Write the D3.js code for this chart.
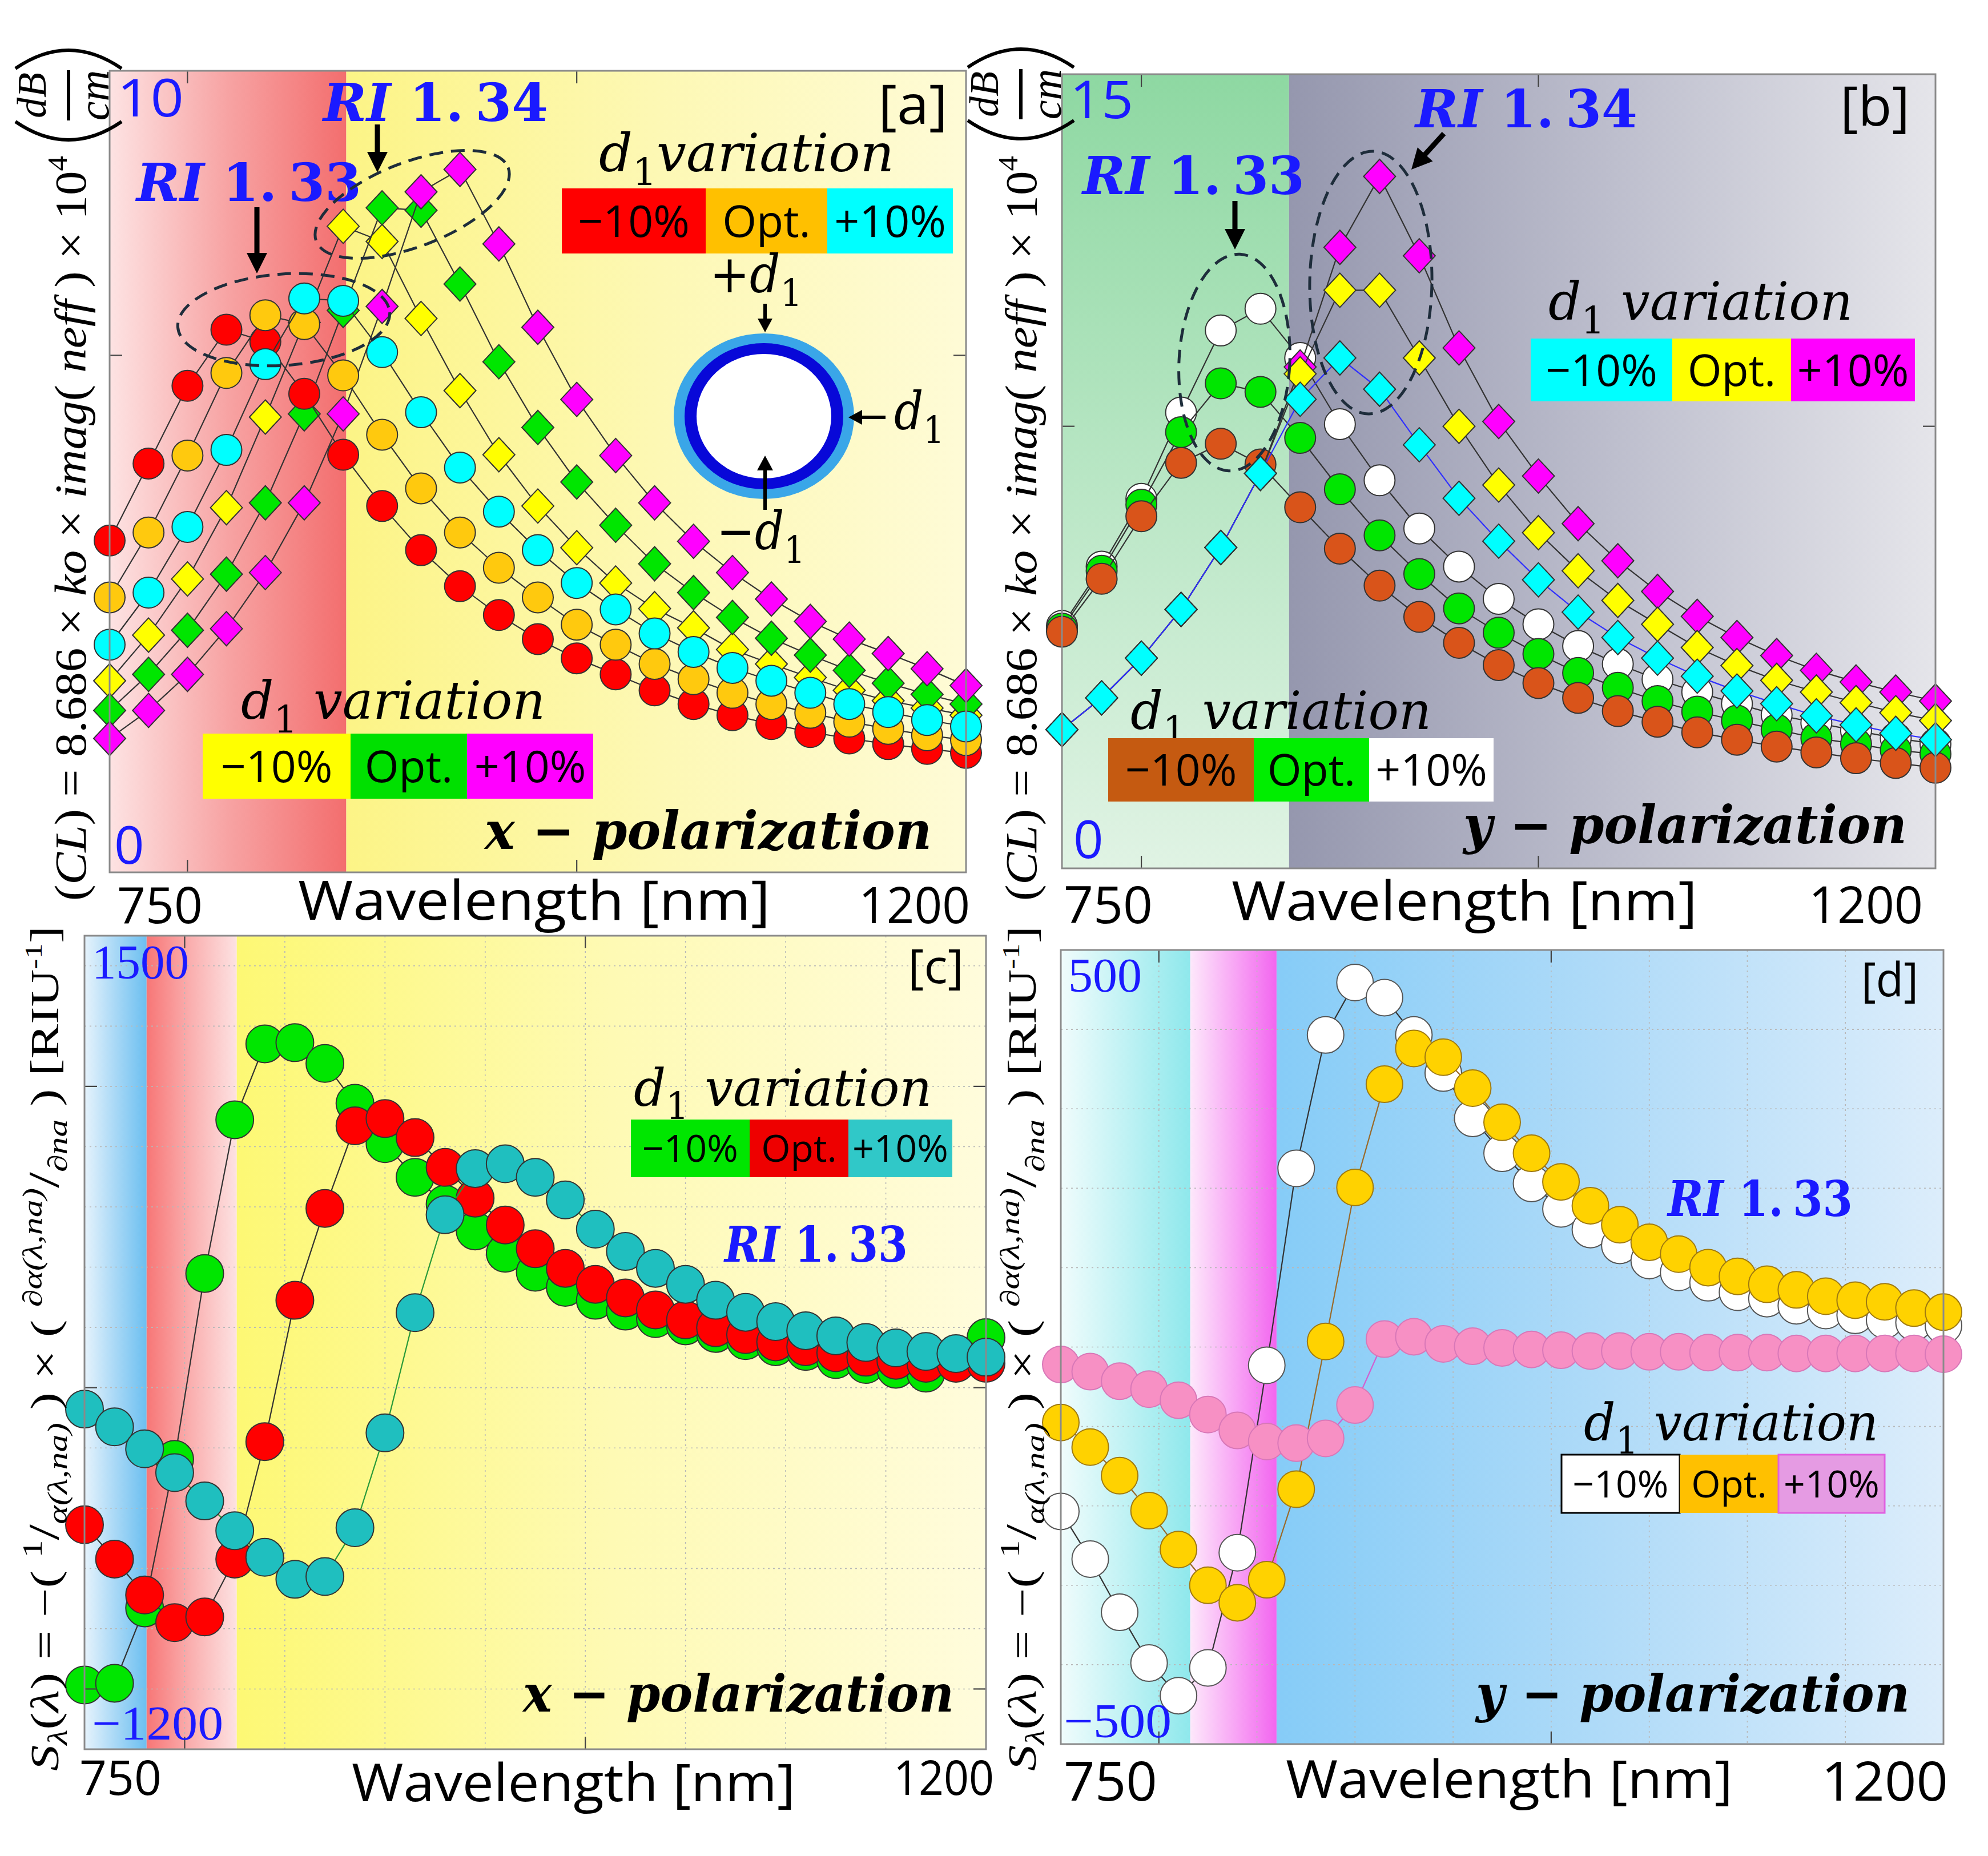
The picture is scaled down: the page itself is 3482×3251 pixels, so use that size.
<!DOCTYPE html>
<html><head><meta charset="utf-8">
<script src="https://cdn.jsdelivr.net/npm/d3@7"></script>
<style>html,body{margin:0;padding:0;background:#fff}svg{display:block}</style>
</head><body>
<script>
// ---------------- DATA ----------------
const wavelengthAB = [700,725,750,775,800,825,850,875,900,925,950,975,1000,1025,1050,1075,1100,1125,1150,1175,1200,1225,1250];
const wavelengthCD = [750,765,780,795,810,825,840,855,870,885,900,915,930,945,960,975,990,1005,1020,1035,1050,1065,1080,1095,1110,1125,1140,1155,1170,1185,1200];
const xTickLabels = ["750", "1200"];
const legendLabels = ["\u221210%", "Opt.", "+10%"];

// panel a: confinement loss, x-polarization (RI 1.33 circles, RI 1.34 diamonds)
const aRI133m10 = [4.14,5.10,6.07,6.77,6.62,5.97,5.21,4.57,4.02,3.57,3.21,2.91,2.67,2.47,2.27,2.10,1.96,1.85,1.75,1.67,1.60,1.54,1.49];
const aRI133opt = [3.43,4.24,5.20,6.23,6.95,6.84,6.20,5.46,4.79,4.24,3.80,3.43,3.09,2.84,2.60,2.41,2.24,2.10,1.99,1.88,1.79,1.71,1.65];
const aRI133p10 = [2.84,3.49,4.31,5.27,6.34,7.16,7.13,6.49,5.74,5.05,4.50,4.02,3.61,3.28,2.98,2.75,2.55,2.39,2.24,2.10,2.00,1.90,1.82];
const aRI134m10 = [2.39,2.96,3.66,4.55,5.68,6.86,8.06,7.87,6.91,6.01,5.21,4.57,4.05,3.61,3.29,3.05,2.78,2.60,2.43,2.27,2.14,2.05,1.96];
const aRI134opt = [2.02,2.47,3.02,3.72,4.61,5.72,7.01,8.29,8.26,7.34,6.37,5.55,4.87,4.33,3.85,3.49,3.18,2.92,2.71,2.52,2.36,2.22,2.10];
const aRI134p10 = [1.67,2.02,2.47,3.04,3.74,4.61,5.72,7.06,8.49,8.77,7.84,6.80,5.90,5.20,4.61,4.13,3.74,3.41,3.13,2.91,2.73,2.54,2.33];
const aYLabels = ["0", "10"];

// panel b: confinement loss, y-polarization
const bRI133m10 = [4.47,5.47,6.65,7.66,8.02,7.63,6.82,6.04,5.34,4.75,4.26,3.84,3.50,3.22,2.97,2.77,2.57,2.43,2.30,2.19,2.08,1.99,1.90];
const bRI133opt = [4.53,5.62,6.87,8.24,9.16,9.00,8.13,7.16,6.29,5.56,4.91,4.45,4.05,3.69,3.41,3.16,2.96,2.79,2.62,2.46,2.35,2.23,2.16];
const bRI133p10 = [4.58,5.70,6.98,8.61,10.16,10.57,9.64,8.39,7.33,6.42,5.70,5.09,4.61,4.20,3.86,3.57,3.33,3.11,2.90,2.75,2.60,2.46,2.35];
const bRI134m10 = [2.62,3.22,3.97,4.89,6.06,7.46,8.86,9.64,9.05,8.00,6.99,6.18,5.45,4.84,4.36,3.97,3.63,3.35,3.11,2.88,2.71,2.55,2.43];
const bRI134opt = [2.62,3.22,3.97,4.89,6.06,7.46,9.34,10.92,10.92,9.64,8.35,7.24,6.34,5.62,5.06,4.61,4.17,3.83,3.55,3.33,3.13,2.94,2.79];
const bRI134p10 = [2.62,3.22,3.97,4.89,6.06,7.46,9.47,11.73,13.07,11.57,9.83,8.44,7.41,6.51,5.81,5.23,4.76,4.36,4.02,3.74,3.52,3.33,3.16];
const bYLabels = ["0", "15"];

// panel c: sensitivity, x-polarization
const cM10 = [-987,-981,-731,-238,379,889,1141,1145,1076,944,810,698,609,520,446,383,333,290,254,229,205,180,156,136,120,93,77,61,48,107,166];
const cOpt = [-455,-569,-688,-780,-761,-569,-179,290,595,869,893,830,731,629,540,461,396,343,298,258,225,199,176,152,136,116,101,91,81,81,81];
const cP10 = [-71,-130,-203,-282,-376,-475,-563,-636,-627,-465,-150,249,574,727,743,698,623,526,452,396,343,290,250,219,189,172,150,132,120,113,101];
const cYLabels = ["\u22121200", "1500"];

// panel d: sensitivity, y-polarization
const dM10 = [-207,-267,-334,-398,-439,-404,-259,-23,225,393,459,440,393,345,288,244,206,174,148,128,109,94,81,69,61,52,46,40,34,31,27];
const dOpt = [-95,-126,-162,-206,-255,-300,-322,-293,-179,7,201,331,376,365,326,283,244,208,178,154,132,117,100,89,79,72,64,59,57,49,44];
const dP10 = [-22,-31,-43,-53,-67,-85,-105,-119,-121,-115,-73,10,13,4,1,-1,-3,-4,-5,-5,-6,-6,-7,-7,-7,-8,-8,-8,-8,-8,-9];
const dYLabels = ["\u2212500", "500"];

// ---------------- DRAWING ----------------
const W = 3482, H = 3251;
const SANS = "'Open Sans','Noto Sans',sans-serif";
const SERIF = "'DejaVu Serif',serif";
const TIMES = "'Liberation Serif',serif";
const BLUE = "#1a1aff";

const svg = d3.select("body").append("svg").attr("width", W).attr("height", H)
  .attr("viewBox", `0 0 ${W} ${H}`);
svg.append("rect").attr("width", W).attr("height", H).attr("fill", "#fff");
const defs = svg.append("defs");

function txt(g, o) {
  const t = g.append("text").attr("x", o.x).attr("y", o.y)
    .attr("font-size", o.size).attr("font-family", o.family || SANS)
    .attr("fill", o.fill || "#000");
  if (o.anchor) t.attr("text-anchor", o.anchor);
  if (o.weight) t.attr("font-weight", o.weight);
  if (o.style) t.attr("font-style", o.style);
  if (o.len) t.attr("textLength", o.len).attr("lengthAdjust", "spacingAndGlyphs");
  if (o.text != null) t.text(o.text);
  return t;
}

function drawPanel(P) {
  const g = svg.append("g");
  const x = d3.scaleLinear().domain(P.xDomain).range([P.box.x0, P.box.x1]);
  const y = d3.scaleLinear().domain(P.yDomain).range([P.box.y1, P.box.y0]);
  const bw = P.box.x1 - P.box.x0, bh = P.box.y1 - P.box.y0;

  P.regions.forEach((r, i) => {
    const id = `grad-${P.id}-${i}`;
    const lg = defs.append("linearGradient").attr("id", id)
      .attr("x1", 0).attr("y1", 0)
      .attr("x2", r.dir === "v" ? 0 : 1).attr("y2", r.dir === "v" ? 1 : 0);
    r.stops.forEach((c, k) => lg.append("stop").attr("offset", k / (r.stops.length - 1)).attr("stop-color", c));
    g.append("rect").attr("x", x(r.from)).attr("y", P.box.y0)
      .attr("width", x(r.to) - x(r.from)).attr("height", bh)
      .attr("fill", `url(#${id})`);
  });

  if (P.gridX) {
    g.selectAll(null).data(P.gridX).join("line")
      .attr("x1", d => x(d)).attr("x2", d => x(d))
      .attr("y1", P.box.y0).attr("y2", P.box.y1)
      .attr("stroke", "#b8b8b8").attr("stroke-width", 1.6).attr("stroke-dasharray", "3 6");
  }
  if (P.gridY) {
    g.selectAll(null).data(P.gridY).join("line")
      .attr("y1", d => y(d)).attr("y2", d => y(d))
      .attr("x1", P.box.x0).attr("x2", P.box.x1)
      .attr("stroke", "#b8b8b8").attr("stroke-width", 1.6).attr("stroke-dasharray", "3 6");
  }

  P.series.forEach(s => {
    const line = d3.line().x((d, i) => x(P.xs[i])).y(d => y(d));
    g.append("path").attr("d", line(s.values)).attr("fill", "none")
      .attr("stroke", s.line).attr("stroke-width", 2.2);
    const m = g.selectAll(null).data(s.values).join(s.shape === "diamond" ? "path" : "circle");
    if (s.shape === "diamond") {
      const w = P.dw, h = P.dh;
      m.attr("d", (d, i) => `M${x(P.xs[i])},${y(d) - h}L${x(P.xs[i]) + w},${y(d)}L${x(P.xs[i])},${y(d) + h}L${x(P.xs[i]) - w},${y(d)}Z`);
    } else {
      m.attr("cx", (d, i) => x(P.xs[i])).attr("cy", d => y(d)).attr("r", P.r);
    }
    m.attr("fill", s.fill).attr("stroke", s.stroke || "#333").attr("stroke-width", 2);
  });

  const tl = 22;
  (P.xTicks || []).forEach(v => {
    g.append("line").attr("x1", x(v)).attr("x2", x(v)).attr("y1", P.box.y1).attr("y2", P.box.y1 - tl).attr("stroke", "#444").attr("stroke-width", 2.2);
    g.append("line").attr("x1", x(v)).attr("x2", x(v)).attr("y1", P.box.y0).attr("y2", P.box.y0 + tl).attr("stroke", "#444").attr("stroke-width", 2.2);
  });
  (P.yTicks || []).forEach(v => {
    g.append("line").attr("y1", y(v)).attr("y2", y(v)).attr("x1", P.box.x0).attr("x2", P.box.x0 + tl).attr("stroke", "#444").attr("stroke-width", 2.2);
    g.append("line").attr("y1", y(v)).attr("y2", y(v)).attr("x1", P.box.x1).attr("x2", P.box.x1 - tl).attr("stroke", "#444").attr("stroke-width", 2.2);
  });
  g.append("rect").attr("x", P.box.x0).attr("y", P.box.y0).attr("width", bw).attr("height", bh)
    .attr("fill", "none").attr("stroke", "#8a8a8a").attr("stroke-width", 3);
  return g;
}

// ---------- annotations helpers ----------
function arrow(g, x1, y1, x2, y2, w, hl, hw) {
  const dx = x2 - x1, dy = y2 - y1, L = Math.hypot(dx, dy), ux = dx / L, uy = dy / L;
  const bx = x2 - ux * hl, by = y2 - uy * hl;
  g.append("line").attr("x1", x1).attr("y1", y1).attr("x2", bx + ux * 2).attr("y2", by + uy * 2)
    .attr("stroke", "#000").attr("stroke-width", w);
  g.append("path").attr("d", `M${x2},${y2}L${bx - uy * hw / 2},${by + ux * hw / 2}L${bx + uy * hw / 2},${by - ux * hw / 2}Z`).attr("fill", "#000");
}
function dashedEllipse(g, cx, cy, rx, ry, rot) {
  g.append("ellipse").attr("cx", 0).attr("cy", 0).attr("rx", rx).attr("ry", ry)
    .attr("transform", `translate(${cx},${cy}) rotate(${rot})`)
    .attr("fill", "none").attr("stroke", "#1e2d3b").attr("stroke-width", 5).attr("stroke-dasharray", "24 14");
}
function riLabel(g, x, y, num, len, size) {
  const t = txt(g, { x, y, size, family: SERIF, weight: "bold", fill: BLUE, len });
  t.append("tspan").attr("font-style", "italic").text("RI");
  const parts = num.split(".");
  t.append("tspan").text(" " + parts[0] + ".");
  t.append("tspan").attr("dx", size * 0.22).text(parts[1]);
}
function d1Label(g, x, y, len, size, prefix, suffix) {
  const t = txt(g, { x, y, size, family: SERIF, style: "italic", len });
  if (prefix) t.append("tspan").attr("font-style", "normal").text(prefix);
  t.append("tspan").text("d");
  t.append("tspan").attr("dy", size * 0.26).attr("font-size", size * 0.72).attr("font-style", "normal").text("1");
  if (suffix) t.append("tspan").attr("dy", -size * 0.26).text(suffix);
}
function polLabel(g, x, y, letter, len, size) {
  const t = txt(g, { x, y, size, family: SERIF, weight: "bold", len });
  t.append("tspan").attr("font-style", "italic").text(letter);
  t.append("tspan").text(" \u2212 ");
  t.append("tspan").attr("font-style", "italic").text("polarization");
}
function legendBoxes(g, y0, y1, xs, fills, size, strokes) {
  legendLabels.forEach((lab, i) => {
    g.append("rect").attr("x", xs[i]).attr("y", y0).attr("width", xs[i + 1] - xs[i]).attr("height", y1 - y0)
      .attr("fill", fills[i]).attr("stroke", strokes ? strokes[i] : "none").attr("stroke-width", 3);
    txt(g, { x: (xs[i] + xs[i + 1]) / 2, y: (y0 + y1) / 2 + size * 0.36, size, anchor: "middle", text: lab });
  });
}
function xAxisTexts(g, o) {
  txt(g, { x: o.x750, y: o.yNum, size: o.sizeNum, len: o.len750, text: xTickLabels[0] });
  txt(g, { x: o.xW, y: o.yW, size: o.sizeW, len: o.lenW, text: "Wavelength [nm]" });
  txt(g, { x: o.x1200, y: o.yNum, size: o.sizeNum, len: o.len1200, text: xTickLabels[1] });
}
function dbcm(g, cx, cy) {
  const f = g.append("g").attr("transform", `translate(${cx},${cy})`);
  const r = f.append("g").attr("transform", "rotate(-90)");
  txt(r, { x: 0, y: -40, size: 72, family: TIMES, style: "italic", anchor: "middle", text: "dB" });
  r.append("line").attr("x1", -44).attr("x2", 44).attr("y1", 0).attr("y2", 0).attr("stroke", "#000").attr("stroke-width", 6);
  txt(r, { x: 0, y: 70, size: 76, family: TIMES, style: "italic", anchor: "middle", text: "cm" });
  f.append("path").attr("d", "M-93,-47 Q0,-111 93,-47").attr("fill", "none").attr("stroke", "#000").attr("stroke-width", 6);
  f.append("path").attr("d", "M-93,46 Q0,110 93,46").attr("fill", "none").attr("stroke", "#000").attr("stroke-width", 6);
}
function ylabelCL(g, bx, by, len) {
  const r = g.append("g").attr("transform", `translate(${bx},${by}) rotate(-90)`);
  const F = 78;
  const t = txt(r, { x: 0, y: 0, size: F, family: TIMES, len });
  t.append("tspan").text("(");
  t.append("tspan").attr("font-style", "italic").text("CL");
  t.append("tspan").text(") = 8.686 \u00d7 ");
  t.append("tspan").attr("font-style", "italic").text("ko");
  t.append("tspan").text(" \u00d7 ");
  t.append("tspan").attr("font-style", "italic").text("imag");
  t.append("tspan").text("( ");
  t.append("tspan").attr("font-style", "italic").text("neff");
  t.append("tspan").text(" ) \u00d7 10");
  t.append("tspan").attr("dy", -F * 0.42).attr("font-size", F * 0.62).text("4");
}
function ylabelS(g, bx, by, len) {
  const r = g.append("g").attr("transform", `translate(${bx},${by}) rotate(-90)`);
  const F = 70, sup = F * 0.42, sub = F * 0.22, s = F * 0.68;
  const t = txt(r, { x: 0, y: 0, size: F, family: TIMES, len });
  t.append("tspan").attr("font-style", "italic").text("S");
  t.append("tspan").attr("font-style", "italic").attr("font-size", s).attr("dy", sub).text("\u03bb");
  t.append("tspan").attr("dy", -sub).text("(");
  t.append("tspan").attr("font-style", "italic").text("\u03bb");
  t.append("tspan").text(") = \u2212( ");
  t.append("tspan").attr("font-size", s).attr("dy", -sup).text("1");
  t.append("tspan").attr("font-size", F * 1.1).attr("dy", sup).text("/");
  t.append("tspan").attr("font-style", "italic").attr("font-size", s).attr("dy", sub).text("\u03b1(\u03bb,na)");
  t.append("tspan").attr("dy", -sub).text(" ) \u00d7 ( ");
  t.append("tspan").attr("font-style", "italic").attr("font-size", s).attr("dy", -sup).text("\u2202\u03b1(\u03bb,na)");
  t.append("tspan").attr("font-size", F * 1.1).attr("dy", sup).text("/");
  t.append("tspan").attr("font-style", "italic").attr("font-size", s).attr("dy", sub).text("\u2202na");
  t.append("tspan").attr("dy", -sub).text(" ) [RIU");
  t.append("tspan").attr("font-size", F * 0.6).attr("dy", -sup).text("-1");
  t.append("tspan").attr("dy", sup).text("]");
}

// ================= PANEL A =================
const gA = drawPanel({
  id: "a", box: { x0: 192, y0: 124, x1: 1692, y1: 1528 },
  xDomain: [700, 1250], yDomain: [0, 10], xs: wavelengthAB, r: 27, dw: 28, dh: 30,
  xTicks: [750, 1000], yTicks: [6.45],
  regions: [
    { from: 700, to: 852, dir: "h", stops: ["#fde3e3", "#f7a3a3", "#f36e6e"] },
    { from: 852, to: 1250, dir: "h", stops: ["#fcf486", "#fdf8b4", "#fefbd6"] }
  ],
  series: [
    { values: aRI134m10, shape: "diamond", fill: "#ffff00", line: "#333" },
    { values: aRI134opt, shape: "diamond", fill: "#00e600", line: "#333" },
    { values: aRI134p10, shape: "diamond", fill: "#ff00ff", line: "#333" },
    { values: aRI133m10, shape: "circle", fill: "#ff0000", line: "#333" },
    { values: aRI133opt, shape: "circle", fill: "#ffc90e", line: "#333" },
    { values: aRI133p10, shape: "circle", fill: "#00ffff", line: "#333" }
  ]
});
txt(gA, { x: 205, y: 204, size: 92, len: 117, fill: BLUE, text: aYLabels[1] });
txt(gA, { x: 200, y: 1513, size: 92, fill: BLUE, text: aYLabels[0] });
txt(gA, { x: 1538, y: 217, size: 95, len: 122, text: "[a]" });
riLabel(gA, 566, 212, "1.34", 394, 92);
riLabel(gA, 239, 352, "1.33", 394, 92);
arrow(gA, 661, 218, 661, 302, 9, 36, 36);
arrow(gA, 450, 363, 450, 479, 9, 36, 36);
dashedEllipse(gA, 497, 560, 186, 80, -4);
dashedEllipse(gA, 722, 358, 180, 74, -21);
d1Label(gA, 1049, 300, 517, 92, "", "variation");
legendBoxes(gA, 330, 444, [984, 1236, 1449, 1669], ["#ff0000", "#ffc000", "#00ffff"], 77);
// ring diagram
gA.append("ellipse").attr("cx", 1338).attr("cy", 729).attr("rx", 158).attr("ry", 145).attr("fill", "#3aa6e8");
gA.append("ellipse").attr("cx", 1338).attr("cy", 729).attr("rx", 139).attr("ry", 128).attr("fill", "#0808d8");
gA.append("ellipse").attr("cx", 1338).attr("cy", 729).attr("rx", 118).attr("ry", 109).attr("fill", "#ffffff");
d1Label(gA, 1243, 512, 162, 92, "+", "");
arrow(gA, 1340, 532, 1340, 582, 6, 24, 26);
d1Label(gA, 1566, 752, 88, 92, "", "");
arrow(gA, 1551, 731, 1486, 731, 6, 24, 26);
d1Label(gA, 1255, 962, 155, 92, "\u2212", "");
arrow(gA, 1340, 893, 1340, 798, 6, 26, 28);
d1Label(gA, 422, 1259, 533, 92, "", " variation");
legendBoxes(gA, 1285, 1399, [355, 614, 818, 1039], ["#ffff00", "#00e000", "#ff00ff"], 77);
polLabel(gA, 849, 1487, "x", 783, 92);
xAxisTexts(gA, { x750: 205, len750: 150, yNum: 1617, sizeNum: 87, xW: 522, lenW: 827, yW: 1611, sizeW: 95, x1200: 1504, len1200: 195 });
ylabelCL(gA, 150, 1578, 1305);
dbcm(gA, 120, 167);

// ================= PANEL B =================
const gB = drawPanel({
  id: "b", box: { x0: 1860, y0: 130, x1: 3390, y1: 1521 },
  xDomain: [700, 1250], yDomain: [0, 15], xs: wavelengthAB, r: 27, dw: 28, dh: 30,
  xTicks: [750, 1000], yTicks: [8.35],
  regions: [
    { from: 700, to: 843, dir: "v", stops: ["#8ed8a2", "#b8e6c4", "#e0f3e4"] },
    { from: 843, to: 1250, dir: "h", stops: ["#9597ae", "#bdbecd", "#e5e5ea"] }
  ],
  series: [
    { values: bRI133p10, shape: "circle", fill: "#ffffff", line: "#333" },
    { values: bRI133opt, shape: "circle", fill: "#00e600", line: "#333" },
    { values: bRI133m10, shape: "circle", fill: "#d9541a", line: "#333" },
    { values: bRI134p10, shape: "diamond", fill: "#ff00ff", line: "#333" },
    { values: bRI134opt, shape: "diamond", fill: "#ffff00", line: "#333" },
    { values: bRI134m10, shape: "diamond", fill: "#00ffff", line: "#3030ff" }
  ]
});
txt(gB, { x: 1874, y: 207, size: 92, len: 111, fill: BLUE, text: bYLabels[1] });
txt(gB, { x: 1880, y: 1503, size: 92, fill: BLUE, text: bYLabels[0] });
txt(gB, { x: 3223, y: 220, size: 95, len: 122, text: "[b]" });
riLabel(gB, 2479, 223, "1.34", 389, 92);
riLabel(gB, 1896, 340, "1.33", 389, 92);
arrow(gB, 2163, 352, 2163, 437, 9, 36, 36);
arrow(gB, 2529, 234, 2472, 297, 9, 36, 36);
dashedEllipse(gB, 2162, 635, 97, 190, 3);
dashedEllipse(gB, 2401, 495, 107, 230, 1);
d1Label(gB, 2712, 560, 533, 92, "", " variation");
legendBoxes(gB, 593, 703, [2681, 2929, 3137, 3354], ["#00ffff", "#ffff00", "#ff00ff"], 77);
d1Label(gB, 1980, 1277, 527, 92, "", " variation");
legendBoxes(gB, 1293, 1404, [1941, 2196, 2398, 2616], ["#c55a11", "#00ee00", "#ffffff"], 77);
polLabel(gB, 2563, 1477, "y", 777, 92);
xAxisTexts(gB, { x750: 1863, len750: 156, yNum: 1617, sizeNum: 90, xW: 2157, lenW: 816, yW: 1612, sizeW: 95, x1200: 3168, len1200: 200 });
ylabelCL(gB, 1815, 1578, 1305);
dbcm(gB, 1788, 165);

// ================= PANEL C =================
const gC = drawPanel({
  id: "c", box: { x0: 148, y0: 1639, x1: 1727, y1: 3064 },
  xDomain: [750, 1200], yDomain: [-1200, 1500], xs: wavelengthCD, r: 33,
  xTicks: [800, 1000], yTicks: [-1000, 0, 1000],
  gridX: [800, 850, 900, 950, 1000, 1050, 1100, 1150],
  gridY: [-1000, -800, -600, -400, -200, 0, 200, 400, 600, 800, 1000, 1200, 1400],
  regions: [
    { from: 750, to: 781, dir: "h", stops: ["#e6f3fc", "#a8d8f6", "#6cbff0"] },
    { from: 781, to: 826, dir: "h", stops: ["#f77676", "#fab0b0", "#fde2e2"] },
    { from: 826, to: 1200, dir: "h", stops: ["#fdf874", "#fefab4", "#fffcdc"] }
  ],
  series: [
    { values: cM10, shape: "circle", fill: "#00e600", line: "#333" },
    { values: cOpt, shape: "circle", fill: "#ff0000", line: "#333" },
    { values: cP10, shape: "circle", fill: "#1fbfbf", line: "#2a9a3a" }
  ]
});
txt(gC, { x: 161, y: 1714, size: 85, len: 170, family: TIMES, fill: BLUE, text: cYLabels[1] });
txt(gC, { x: 161, y: 3047, size: 85, len: 230, family: TIMES, fill: BLUE, text: cYLabels[0] });
txt(gC, { x: 1590, y: 1722, size: 82, len: 98, text: "[c]" });
d1Label(gC, 1110, 1937, 522, 90, "", " variation");
legendBoxes(gC, 1961, 2062, [1105, 1313, 1486, 1668], ["#00e600", "#ee0000", "#30c8c8"], 66);
riLabel(gC, 1269, 2210, "1.33", 321, 86);
polLabel(gC, 916, 2998, "x", 755, 90);
xAxisTexts(gC, { x750: 139, len750: 144, yNum: 3144, sizeNum: 84, xW: 616, lenW: 777, yW: 3155, sizeW: 92, x1200: 1565, len1200: 176 });
ylabelS(gC, 102, 3102, 1480);

// ================= PANEL D =================
const gD = drawPanel({
  id: "d", box: { x0: 1858, y0: 1664, x1: 3404, y1: 3055 },
  xDomain: [750, 1200], yDomain: [-500, 500], xs: wavelengthCD, r: 32,
  xTicks: [800, 1000], yTicks: [],
  gridX: [800, 850, 900, 950, 1000, 1050, 1100, 1150],
  gridY: [-400, -300, -200, -100, 0, 100, 200, 300, 400],
  regions: [
    { from: 750, to: 816, dir: "h", stops: ["#f0fcfc", "#c0f2f4", "#8fe8ec"] },
    { from: 816, to: 860, dir: "h", stops: ["#fde8fb", "#f8a8f5", "#f266ef"] },
    { from: 860, to: 1200, dir: "h", stops: ["#86ccf7", "#b0dbf8", "#dcedfb"] }
  ],
  series: [
    { values: dM10, shape: "circle", fill: "#ffffff", line: "#333", stroke: "#555" },
    { values: dOpt, shape: "circle", fill: "#ffd200", line: "#9a6a2a", stroke: "#a07a10" },
    { values: dP10, shape: "circle", fill: "#f790c4", line: "#d060d0", stroke: "#d878b8" }
  ]
});
txt(gD, { x: 1871, y: 1737, size: 85, len: 129, family: TIMES, fill: BLUE, text: dYLabels[1] });
txt(gD, { x: 1863, y: 3043, size: 85, len: 189, family: TIMES, fill: BLUE, text: dYLabels[0] });
txt(gD, { x: 3260, y: 1745, size: 82, len: 100, text: "[d]" });
riLabel(gD, 2921, 2130, "1.33", 324, 86);
d1Label(gD, 2774, 2523, 516, 90, "", " variation");
legendBoxes(gD, 2548, 2650, [2735, 2942, 3115, 3301], ["#ffffff", "#ffc000", "#e59be3"], 66, ["#000", "none", "#e060e0"]);
polLabel(gD, 2585, 2998, "y", 760, 90);
xAxisTexts(gD, { x750: 1863, len750: 164, yNum: 3154, sizeNum: 95, xW: 2252, lenW: 783, yW: 3149, sizeW: 92, x1200: 3190, len1200: 222 });
ylabelS(gD, 1814, 3102, 1480);
</script>
</body></html>
